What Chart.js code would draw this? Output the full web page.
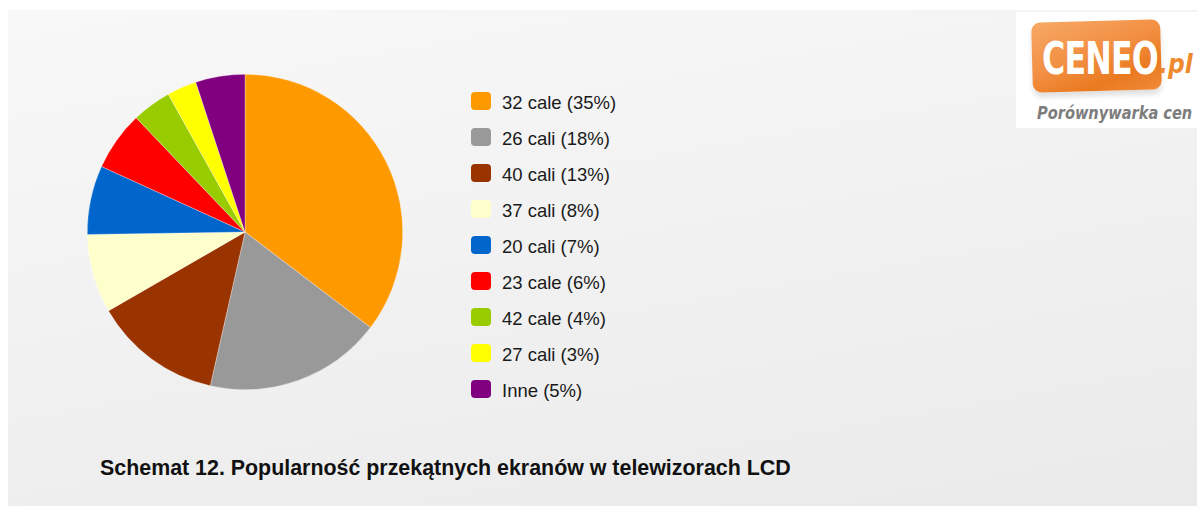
<!DOCTYPE html>
<html><head><meta charset="utf-8">
<script src="https://cdn.jsdelivr.net/npm/chart.js@4/dist/chart.umd.min.js"></script>
<style>
html,body{margin:0;padding:0;background:#fff;width:1197px;height:506px;overflow:hidden;font-family:"Liberation Sans",Arial,sans-serif;}
#panel{position:absolute;left:8px;top:10px;width:1189px;height:496px;background:linear-gradient(170deg,#f8f8f8 0%,#f1f1f1 50%,#eaeaea 100%);}
#pie{position:absolute;left:87px;top:74px;width:316px;height:316px;}
#legend{position:absolute;left:471px;top:92px;}
.row{position:relative;height:36px;}
.sw{position:absolute;left:0;top:0;width:20px;height:18px;border-radius:4px;}
.lb{position:absolute;left:31px;top:1px;font-size:18.5px;line-height:20px;color:#1a1a1a;white-space:nowrap;}
#title{position:absolute;left:100px;top:456px;font-size:21.4px;line-height:24px;font-weight:bold;color:#111;white-space:nowrap;}
#logo{position:absolute;left:1016px;top:12px;width:181px;height:116px;background:#fff;overflow:hidden;}
#badge{position:absolute;left:16px;top:9px;width:129px;height:70px;background:linear-gradient(160deg,#f7a865 0%,#f29044 45%,#ea7a20 75%,#f08a3a 100%);border-radius:9px;transform:rotate(-1.5deg);box-shadow:0 5px 5px rgba(0,0,0,0.12);}
#ceneo{position:absolute;left:26px;top:23px;font-family:"DejaVu Sans Condensed","DejaVu Sans",sans-serif;font-weight:bold;font-size:44px;line-height:48px;color:#fff;transform:scaleX(0.8);transform-origin:0 0;letter-spacing:-1px;}
#pl{position:absolute;left:143px;top:37px;font-family:"DejaVu Sans Condensed","DejaVu Sans",sans-serif;font-weight:bold;font-style:italic;font-size:26px;color:#ef8a2e;}
#sub{position:absolute;left:21px;top:91px;font-family:"DejaVu Sans Condensed","DejaVu Sans",sans-serif;font-style:italic;font-weight:bold;font-size:18px;line-height:20px;color:#7d7d7d;white-space:nowrap;transform:scaleX(0.9);transform-origin:0 0;}
</style></head>
<body>
<div id="panel"></div>
<div id="logo"><div id="badge"></div><div id="ceneo">CENEO</div><div id="pl">.pl</div><div id="sub">Porównywarka cen</div></div>
<div id="pie"><canvas id="c"></canvas></div>
<div id="legend"></div>
<div id="title">Schemat 12. Popularność przekątnych ekranów w telewizorach LCD</div>
<script>
const categories = ["32 cale","26 cali","40 cali","37 cali","20 cali","23 cale","42 cale","27 cali","Inne"];
const shares = [35,18,13,8,7,6,4,3,5];
const colors = ["#FF9900","#999999","#993300","#FFFFCC","#0066CC","#FF0000","#99CC00","#FFFF00","#800080"];

const leg = document.getElementById('legend');
categories.forEach((c,i)=>{
  const r=document.createElement('div');r.className='row';
  const s=document.createElement('div');s.className='sw';s.style.background=colors[i];
  const l=document.createElement('div');l.className='lb';l.textContent=c+' ('+shares[i]+'%)';
  r.appendChild(s);r.appendChild(l);leg.appendChild(r);
});

new Chart(document.getElementById('c'),{
  type:'pie',
  data:{labels:categories,datasets:[{data:shares,backgroundColor:colors,borderWidth:0.6,borderColor:'rgba(255,255,255,0.5)'}]},
  options:{responsive:true,maintainAspectRatio:false,animation:false,
    layout:{padding:0},
    plugins:{legend:{display:false},tooltip:{enabled:false}}}
});
</script>
</body></html>
